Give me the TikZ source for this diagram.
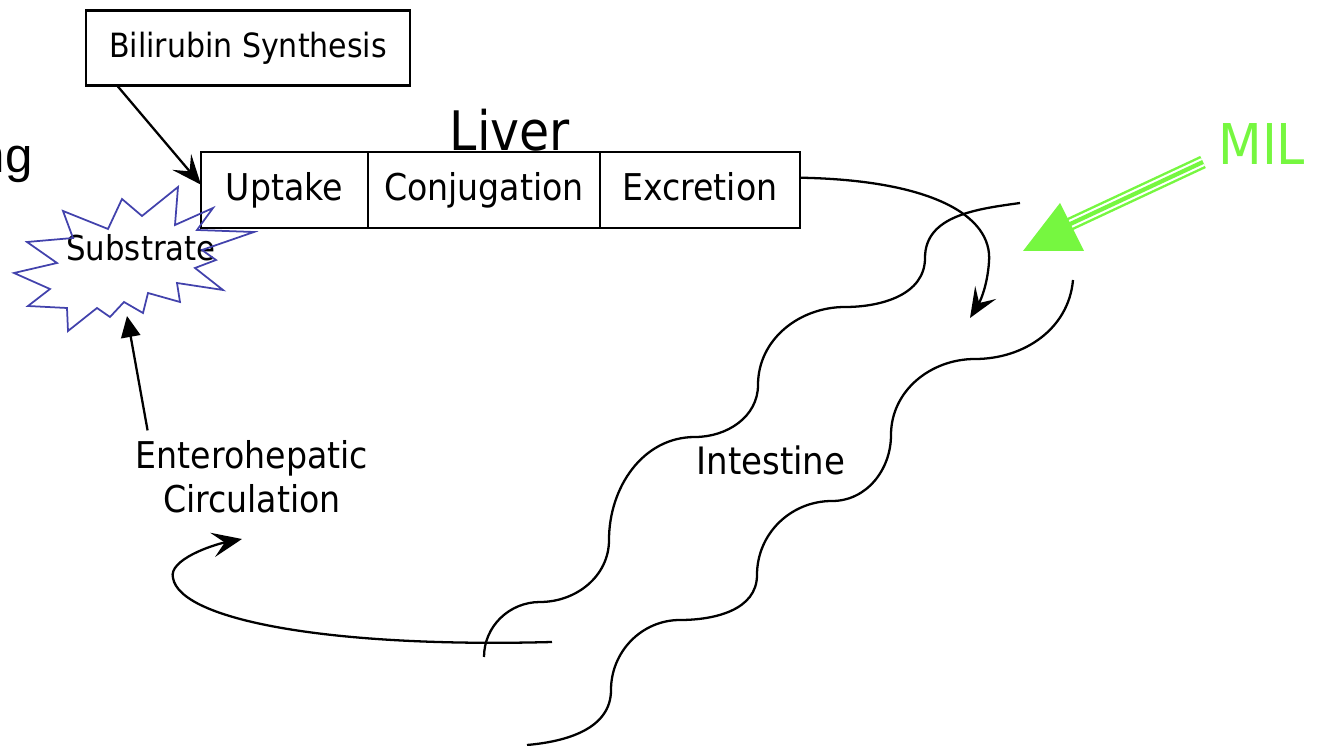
\documentclass[tikz,border=0pt]{standalone}
\usepackage{fontspec}
\setmainfont{DejaVu Sans}[FakeStretch=0.9]
\newfontfamily\slidefont{Liberation Sans}
\usetikzlibrary{arrows.meta,positioning}
\definecolor{milgreen}{RGB}{118,247,64}
\definecolor{burstblue}{RGB}{66,66,172}
\tikzstyle{liverbox} = [draw=black, line width=1.4pt, rectangle, inner sep=0pt, outer sep=0pt,
    minimum height=1.52cm, text height=16pt, text depth=4pt, font=\fontsize{21}{25}\selectfont]
\tikzstyle{namebox} = [draw=black, line width=1.4pt, rectangle, inner sep=0pt, outer sep=0pt,
    minimum width=6.48cm, minimum height=1.5cm, font=\fontsize{19}{23}\selectfont]
\tikzstyle{flow} = [line width=1.3pt, -{Stealth[length=17pt, width=14pt, inset=7pt]}]
\tikzstyle{plain} = [line width=1.3pt]
\tikzstyle{tag} = [inner sep=0pt, font=\fontsize{21}{25}\selectfont]

\begin{document}
\begin{tikzpicture}[x=0.02cm, y=-0.02cm]
\useasboundingbox (0,0) rectangle (1330,746);
% word cut off at the left edge
\node[anchor=base east, inner sep=0pt, font=\slidefont\fontsize{28}{30}\selectfont] (cut) at (33,173) {ng};

% liver
\node[namebox] (bili) at (248,48) {Bilirubin Synthesis};
\node[liverbox, minimum width=3.34cm] (uptake) at (284.5,190) {Uptake};
\node[liverbox, minimum width=4.64cm, right=0pt of uptake] (conj) {Conjugation};
\node[liverbox, minimum width=4cm, right=0pt of conj] (excr) {Excretion};
\node[tag, font=\fontsize{31}{35}\selectfont] (liver) at (510,130) {Liver};
\draw[flow] (bili.south west) ++(31,0) -- ([yshift=3pt]uptake.west);

% substrate
\node[tag, font=\fontsize{19.5}{22}\selectfont] (substrate) at (141,248) {Substrate};
\draw[burstblue, line width=1pt] (122,199) -- (142,216) -- (178,187) -- (175,225) -- (213,208)
    -- (197,230) -- (254,232) -- (202,250) -- (216,260) -- (195,268) -- (223,290) -- (177,283)
    -- (180,302) -- (148,293) -- (143,313) -- (124,302) -- (110,317) -- (97,308) -- (68,331)
    -- (67,308) -- (28,306) -- (50,289) -- (14,273) -- (57,263) -- (27,242) -- (73,238)
    -- (63,211) -- (108,229) -- cycle;
\coordinate (burst-bottom) at (127,316);

% enterohepatic circulation
\node[tag, align=center] (entero) at (252,477) {Enterohepatic\\Circulation};
\draw[line width=1.3pt, -{Triangle[length=12pt, width=11pt]}] (entero.north west) ++(12,-10) -- (burst-bottom);
\coordinate (loop-start) at (552,642);
\coordinate (loop-end) at (242,539);
\draw[flow] (loop-start) .. controls (330,648) and (180,620) .. (173,578)
    .. controls (168,560) and (212,545) .. (loop-end);

% intestine
\node[tag, font=\fontsize{21.5}{25}\selectfont] (intestine) at (771,460) {Intestine};
\draw[plain] (1020,203) to[out=188,in=90] (925,258) to[out=-90,in=0] (845,307)
    to[out=180,in=90] (758,385) to[out=-90,in=0] (695,437) to[out=180,in=90] (609,540)
    to[out=-90,in=0] (540,602) to[out=180,in=90] (484,657);
\draw[plain] (1073,280) to[out=-95,in=0] (975,359) to[out=180,in=90] (891,435)
    to[out=-90,in=0] (832,501) to[out=180,in=90] (757,575) to[out=-90,in=0] (680,620)
    to[out=180,in=90] (611,690) to[out=-90,in=5] (527,745);
\coordinate (exc-end) at (970,318);
\draw[flow] ([yshift=7pt]excr.east) .. controls (930,180) and (993,215) .. (989,262)
    .. controls (987,290) and (978,305) .. (exc-end);

% MIL
\node[anchor=base west, inner sep=0pt, text=milgreen, font=\fontsize{32}{36}\selectfont] (mil) at (1218,165) {MIL};
\coordinate (mil-end) at (1066,226);
\foreach \w/\c in {7.6pt/milgreen, 4.8pt/white, 2.4pt/milgreen}
    \draw[\c, line width=\w] (mil.base west) ++(-15,-3) -- (mil-end);
\fill[milgreen] (1060,203) -- (1023,251) -- (1084,251) -- cycle;
\end{tikzpicture}
\end{document}
